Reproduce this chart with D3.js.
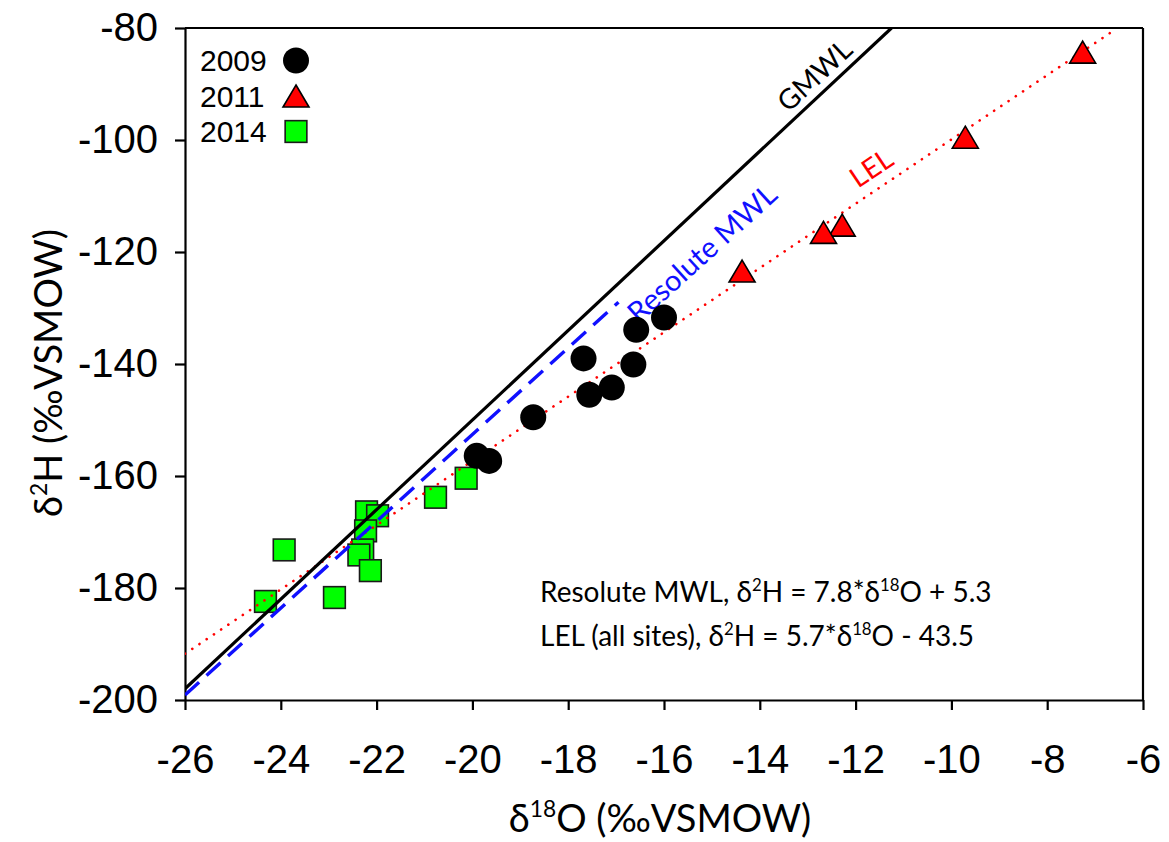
<!DOCTYPE html>
<html>
<head>
<meta charset="utf-8">
<script src="https://cdn.jsdelivr.net/npm/d3@7"></script>
<style>
  body { margin: 0; background: #fff; }
  #chart svg { display: block; }
</style>
</head>
<body>
<div id="chart"></div>
<script>
// ---- data ----
var years = ["2009", "2011", "2014"];

var o18_2009 = [-16.0, -16.58, -17.68, -16.64, -17.09, -17.56, -18.73, -19.91, -19.65];
var h2_2009 = [-131.7, -133.9, -139.0, -140.1, -144.2, -145.5, -149.5, -156.4, -157.3];

var o18_2011 = [-7.26, -9.71, -12.28, -12.67, -14.37];
var h2_2011 = [-84.3, -99.5, -115.2, -116.5, -123.4];

var o18_2014 = [-20.13, -20.77, -22.21, -21.98, -22.23, -22.29, -22.37, -22.13, -23.93, -22.88, -24.32];
var h2_2014 = [-160.4, -163.8, -166.4, -167.1, -169.8, -173.2, -174.1, -176.9, -173.2, -181.7, -182.4];

var xTicks = [-26, -24, -22, -20, -18, -16, -14, -12, -10, -8, -6];
var yTicks = [-200, -180, -160, -140, -120, -100, -80];

// lines as drawn: slope, intercept and x extent
var gmwlLine = [8, 10, -26, -11.25];
var mwlLine = [7.75, 2.4, -26, -16.95];
var lelLine = [5.74, -42.5, -26, -6.55];

var margin = {
  top: 28,
  left: 185,
  bottom: 142,
  right: 26
};

var chartWidth = 1169;
var chartHeight = 842;
var w = chartWidth - margin.left - margin.right;
var h = chartHeight - margin.top - margin.bottom;

var arialFont = "'Liberation Sans', Arial, sans-serif";
var calFont = "Lato, 'Open Sans', sans-serif";

var svg = d3
  .select("#chart")
  .append("svg")
  .attr("width", chartWidth)
  .attr("height", chartHeight)
  .append("g")
  .attr("transform", "translate(" + margin.left + "," + margin.top + ")");

var x = d3.scaleLinear().domain([-26, -6]).range([0, w]);
var y = d3.scaleLinear().domain([-200, -80]).range([h, 0]);

svg.append("defs").append("clipPath").attr("id", "plotclip")
  .append("rect").attr("x", 0).attr("y", 0).attr("width", w).attr("height", h);

// text with superscript pieces, parts = [[text, isSup], ...]
function richText(sel, parts, fs) {
  var raised = false;
  parts.forEach(function(p) {
    var t = sel.append("tspan").text(p[0]);
    if (p[1]) {
      t.attr("font-size", fs * 0.6).attr("dy", -fs * 0.4);
      raised = true;
    } else if (raised) {
      t.attr("dy", fs * 0.4);
      raised = false;
    }
  });
}

// ---- axes ----
var xAxis = svg.append("g")
  .attr("transform", "translate(0," + h + ")")
  .call(d3.axisBottom(x).tickValues(xTicks).tickSize(10).tickSizeOuter(0).tickPadding(35)
    .tickFormat(function(d) { return String(d); }));

var yAxis = svg.append("g")
  .call(d3.axisLeft(y).tickValues(yTicks).tickSize(10).tickSizeOuter(0).tickPadding(17)
    .tickFormat(function(d) { return String(d); }));

[xAxis, yAxis].forEach(function(a) {
  a.select(".domain").attr("stroke", "black").attr("stroke-width", 2.2);
  a.selectAll(".tick line").attr("stroke", "black").attr("stroke-width", 2.2);
  a.selectAll(".tick text")
    .attr("fill", "black")
    .style("font-family", arialFont)
    .style("font-size", "40px");
});

// top and right frame
svg.append("line").attr("x1", 0).attr("y1", 0).attr("x2", w).attr("y2", 0)
  .attr("stroke", "black").attr("stroke-width", 2.2);
svg.append("line").attr("x1", w).attr("y1", 0).attr("x2", w).attr("y2", h)
  .attr("stroke", "black").attr("stroke-width", 2.2);

// axis titles
var xTitle = svg.append("text")
  .attr("x", w / 2 - 4)
  .attr("y", 804)
  .attr("text-anchor", "middle")
  .style("font-family", calFont)
  .style("font-size", "38px");
richText(xTitle, [["\u03b4", false], ["18", true], ["O (\u2030VSMOW)", false]], 38);

var yTitle = svg.append("text")
  .attr("transform", "translate(" + (62 - margin.left) + "," + (373 - margin.top) + ") rotate(-90)")
  .attr("text-anchor", "middle")
  .style("font-family", calFont)
  .style("font-size", "38px");
richText(yTitle, [["\u03b4", false], ["2", true], ["H (\u2030VSMOW)", false]], 38);

// ---- squares (2014) drawn under the lines ----
var sq = 21.7;
svg.selectAll(".sq")
  .data(d3.range(o18_2014.length))
  .enter()
  .append("rect")
  .attr("class", "sq")
  .attr("x", function(i) { return x(o18_2014[i]) - sq / 2; })
  .attr("y", function(i) { return y(h2_2014[i]) - sq / 2; })
  .attr("width", sq)
  .attr("height", sq)
  .attr("fill", "#00ff00")
  .attr("stroke", "#1a1a1a")
  .attr("stroke-width", 1.6);

// ---- reference lines ----
function lineData(l) {
  return [l[2], l[3]].map(function(v) { return [v, l[0] * v + l[1]]; });
}
var line = d3.line()
  .x(function(d) { return x(d[0]); })
  .y(function(d) { return y(d[1]); });

var lines = svg.append("g").attr("clip-path", "url(#plotclip)");

lines.append("path")
  .attr("d", line(lineData(lelLine)))
  .attr("fill", "none")
  .attr("stroke", "#ff0000")
  .attr("stroke-width", 2.6)
  .attr("stroke-linecap", "round")
  .attr("stroke-dasharray", "0.1,8.6");

lines.append("path")
  .attr("d", line(lineData(gmwlLine)))
  .attr("fill", "none")
  .attr("stroke", "black")
  .attr("stroke-width", 3.2);

lines.append("path")
  .attr("d", line(lineData(mwlLine)))
  .attr("fill", "none")
  .attr("stroke", "#1010ff")
  .attr("stroke-width", 3.4)
  .attr("stroke-dasharray", "19,10");

// rotated line labels: place along the line at xv, shifted off the line by off px
function lineLabel(l, xv, off, txt, color, anchor, fs) {
  var a = Math.atan2(y(l[0] * (xv + 1) + l[1]) - y(l[0] * xv + l[1]), x(xv + 1) - x(xv));
  var deg = a * 180 / Math.PI;
  svg.append("text")
    .attr("transform", "translate(" + x(xv) + "," + y(l[0] * xv + l[1]) + ") rotate(" + deg + ")")
    .attr("y", off)
    .attr("text-anchor", anchor)
    .attr("fill", color)
    .style("font-family", calFont)
    .style("font-size", fs + "px")
    .text(txt);
}
lineLabel(gmwlLine, -12.6, -8, "GMWL", "black", "middle", 28);
lineLabel(mwlLine, -16.95, 30, "Resolute MWL", "#1010ff", "start", 29);
lineLabel(lelLine, -11.43, -11, "LEL", "#ff0000", "middle", 28);

// ---- circles (2009) ----
svg.selectAll(".dot")
  .data(d3.range(o18_2009.length))
  .enter()
  .append("circle")
  .attr("class", "dot")
  .attr("cx", function(i) { return x(o18_2009[i]); })
  .attr("cy", function(i) { return y(h2_2009[i]); })
  .attr("r", 13)
  .attr("fill", "black");

// ---- triangles (2011) ----
var triW = 26, triH = 22;
function triPath(cx, cy) {
  return "M" + cx + "," + (cy - triH / 2) +
    "L" + (cx + triW / 2) + "," + (cy + triH / 2) +
    "L" + (cx - triW / 2) + "," + (cy + triH / 2) + "Z";
}
svg.selectAll(".tri")
  .data(d3.range(o18_2011.length))
  .enter()
  .append("path")
  .attr("class", "tri")
  .attr("d", function(i) { return triPath(x(o18_2011[i]), y(h2_2011[i])); })
  .attr("fill", "#ff0000")
  .attr("stroke", "black")
  .attr("stroke-width", 1.6)
  .attr("stroke-linejoin", "miter");

// ---- equations ----
var eq1 = svg.append("text")
  .attr("x", 540 - margin.left)
  .attr("y", 602 - margin.top)
  .style("font-family", calFont)
  .style("font-size", "28px");
richText(eq1, [["Resolute MWL, \u03b4", false], ["2", true], ["H = 7.8*\u03b4", false], ["18", true], ["O + 5.3", false]], 28);

var eq2 = svg.append("text")
  .attr("x", 540 - margin.left)
  .attr("y", 646 - margin.top)
  .style("font-family", calFont)
  .style("font-size", "28px");
richText(eq2, [["LEL (all sites), \u03b4", false], ["2", true], ["H = 5.7*\u03b4", false], ["18", true], ["O - 43.5", false]], 28);

// ---- legend ----
var legend = svg.append("g").attr("transform", "translate(" + (200 - margin.left) + "," + (60.5 - margin.top) + ")");
years.forEach(function(yr, i) {
  var ly = i * 35.5;
  legend.append("text")
    .attr("x", 0)
    .attr("y", ly)
    .attr("dy", "0.36em")
    .style("font-family", arialFont)
    .style("font-size", "30px")
    .text(yr);
  var mx = 96;
  if (i === 0) {
    legend.append("circle").attr("cx", mx).attr("cy", ly).attr("r", 13).attr("fill", "black");
  } else if (i === 1) {
    legend.append("path").attr("d", triPath(mx, ly)).attr("fill", "#ff0000")
      .attr("stroke", "black").attr("stroke-width", 1.6);
  } else {
    legend.append("rect").attr("x", mx - sq / 2).attr("y", ly - sq / 2)
      .attr("width", sq).attr("height", sq)
      .attr("fill", "#00ff00").attr("stroke", "#1a1a1a").attr("stroke-width", 1.6);
  }
});
</script>
</body>
</html>
